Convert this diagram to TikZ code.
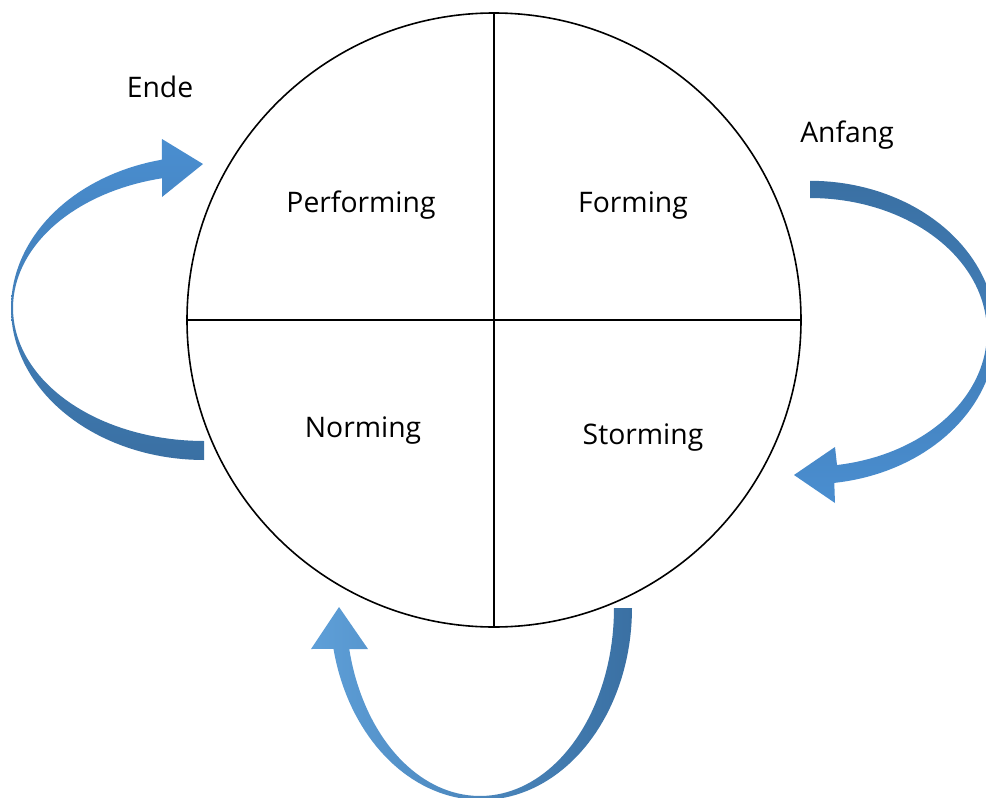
\documentclass[tikz,border=0pt]{standalone}
\usepackage{fontspec}
\setmainfont{Open Sans}
\usepackage{tikz}
\definecolor{arrowdark}{HTML}{3A70A3}
\definecolor{arrowmid}{HTML}{5A8FC4}
\definecolor{arrowlight}{HTML}{5E9FD8}
\definecolor{arrowhead}{HTML}{4A8ED0}

\begin{document}
\begin{tikzpicture}[x=1pt, y=-1pt,
      phase/.style={anchor=base, inner sep=0pt, font=\fontsize{28.3}{34}\selectfont},
      band/.style={draw=none, samples=80},
      rim/.style={line width=1.6pt},
      every node/.style={align=center}]
    \clip (0,0) rectangle (986,798);

    \node[draw, rim, circle, minimum size=614pt, inner sep=0pt, outer sep=0pt] (team) at (494,320) {};
    \draw[rim] (team.west) -- (team.east);
    \draw[rim] (team.north) -- (team.south);

    \node[phase] (perf) at (361,212) {Performing};
    \node[phase] (form) at (633,212) {Forming};
    \node[phase] (norm) at (363,437) {Norming};
    \node[phase] (storm) at (643,444) {Storming};
    \node[phase] (ende) at (160,97) {Ende};
    \node[phase] (anfang) at (847,142) {Anfang};

    % Anfang -> Storming
    \shade[band, top color=arrowdark, middle color=arrowmid, bottom color=arrowhead]
      plot[domain=-90:82.5] ({810+186*cos(\x)}, {332.5+151.7*sin(\x)})
      -- (835,503) -- (794,475) -- (835,447) -- (837,465)
      -- plot[domain=81.2:-90] ({810+177*cos(\x)}, {332.3+134.3*sin(\x)})
      -- cycle;

    % Storming -> Norming
    \shade[band, left color=arrowlight, right color=arrowdark]
      plot[domain=0:167.7] ({481+151*cos(\x)}, {608+192*sin(\x)})
      -- (311,649) -- (339,607) -- (368,649) -- (349,649)
      -- plot[domain=167.4:0] ({480+134*cos(\x)}, {608+188*sin(\x)})
      -- cycle;

    % Norming -> Performing
    \shade[band, top color=arrowhead, middle color=arrowlight, bottom color=arrowdark]
      plot[domain=90:257.4] ({204+193*cos(\x)}, {308+152*sin(\x)})
      -- (162,139) -- (203,164) -- (162,197) -- (162,178.3)
      -- plot[domain=257.3:90] ({204+191*cos(\x)}, {308+133*sin(\x)})
      -- cycle;
  \end{tikzpicture}
\end{document}
